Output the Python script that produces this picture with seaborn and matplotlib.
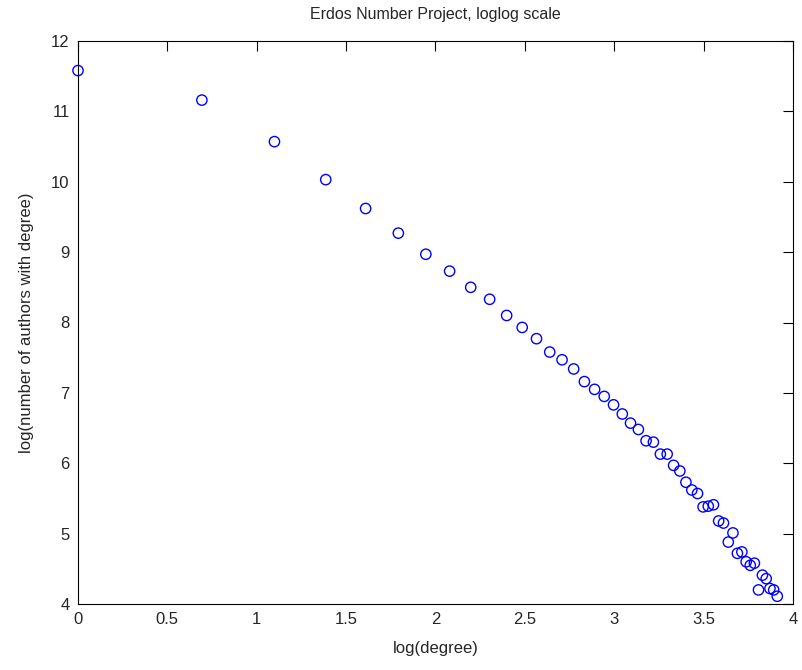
import matplotlib
matplotlib.use("Agg")
import matplotlib.pyplot as plt
import seaborn as sns
import pandas as pd

log_degree = [0.000, 0.693, 1.099, 1.386, 1.609, 1.792, 1.946, 2.079, 2.197, 2.303,
              2.398, 2.485, 2.565, 2.639, 2.708, 2.773, 2.833, 2.890, 2.944, 2.996,
              3.045, 3.091, 3.135, 3.178, 3.219, 3.258, 3.296, 3.332, 3.367, 3.401,
              3.434, 3.466, 3.497, 3.526, 3.555, 3.584, 3.611, 3.638, 3.664, 3.689,
              3.714, 3.738, 3.761, 3.784, 3.807, 3.829, 3.850, 3.871, 3.892, 3.912]
log_authors = [11.58, 11.16, 10.57, 10.03, 9.62, 9.27, 8.97, 8.73, 8.50, 8.33,
               8.10, 7.93, 7.77, 7.58, 7.47, 7.34, 7.16, 7.05, 6.95, 6.83,
               6.70, 6.57, 6.48, 6.32, 6.30, 6.13, 6.13, 5.97, 5.89, 5.73,
               5.62, 5.57, 5.38, 5.39, 5.41, 5.18, 5.15, 4.88, 5.01, 4.72,
               4.74, 4.60, 4.55, 4.58, 4.20, 4.41, 4.36, 4.22, 4.20, 4.11]
x_ticks = [0, 0.5, 1, 1.5, 2, 2.5, 3, 3.5, 4]
x_ticklabels = ["0", "0.5", "1", "1.5", "2", "2.5", "3", "3.5", "4"]
y_ticks = [4, 5, 6, 7, 8, 9, 10, 11, 12]

df = pd.DataFrame({"x": log_degree, "y": log_authors})

sns.set_style("white")
plt.rcParams["font.family"] = ["Liberation Sans", "DejaVu Sans"]

fig = plt.figure(figsize=(8.03, 6.70), dpi=100)
ax = fig.add_axes([78/803, 1-604/670, (793-78)/803, (604-41)/670])

sns.scatterplot(data=df, x="x", y="y", ax=ax, marker="o", s=55,
                facecolors="none", edgecolor="#0000ff", linewidth=1.0,
                clip_on=False, zorder=5)

ax.set_xlim(0, 4)
ax.set_ylim(4, 12)
ax.set_xticks(x_ticks)
ax.set_xticklabels(x_ticklabels)
ax.set_yticks(y_ticks)
ax.tick_params(axis="both", which="both", direction="in", length=7, width=0.8,
               top=True, right=True, labelsize=12, pad=6, color="black")
for s in ax.spines.values():
    s.set_visible(True)
    s.set_color("black")
    s.set_linewidth(0.8)
ax.set_xlabel("log(degree)", fontsize=12, labelpad=10)
ax.set_ylabel("log(number of authors with degree)", fontsize=12, labelpad=12)
ax.set_title("Erdos Number Project, loglog scale", fontsize=11.5, pad=16)

fig.savefig("out.png", dpi=100)
